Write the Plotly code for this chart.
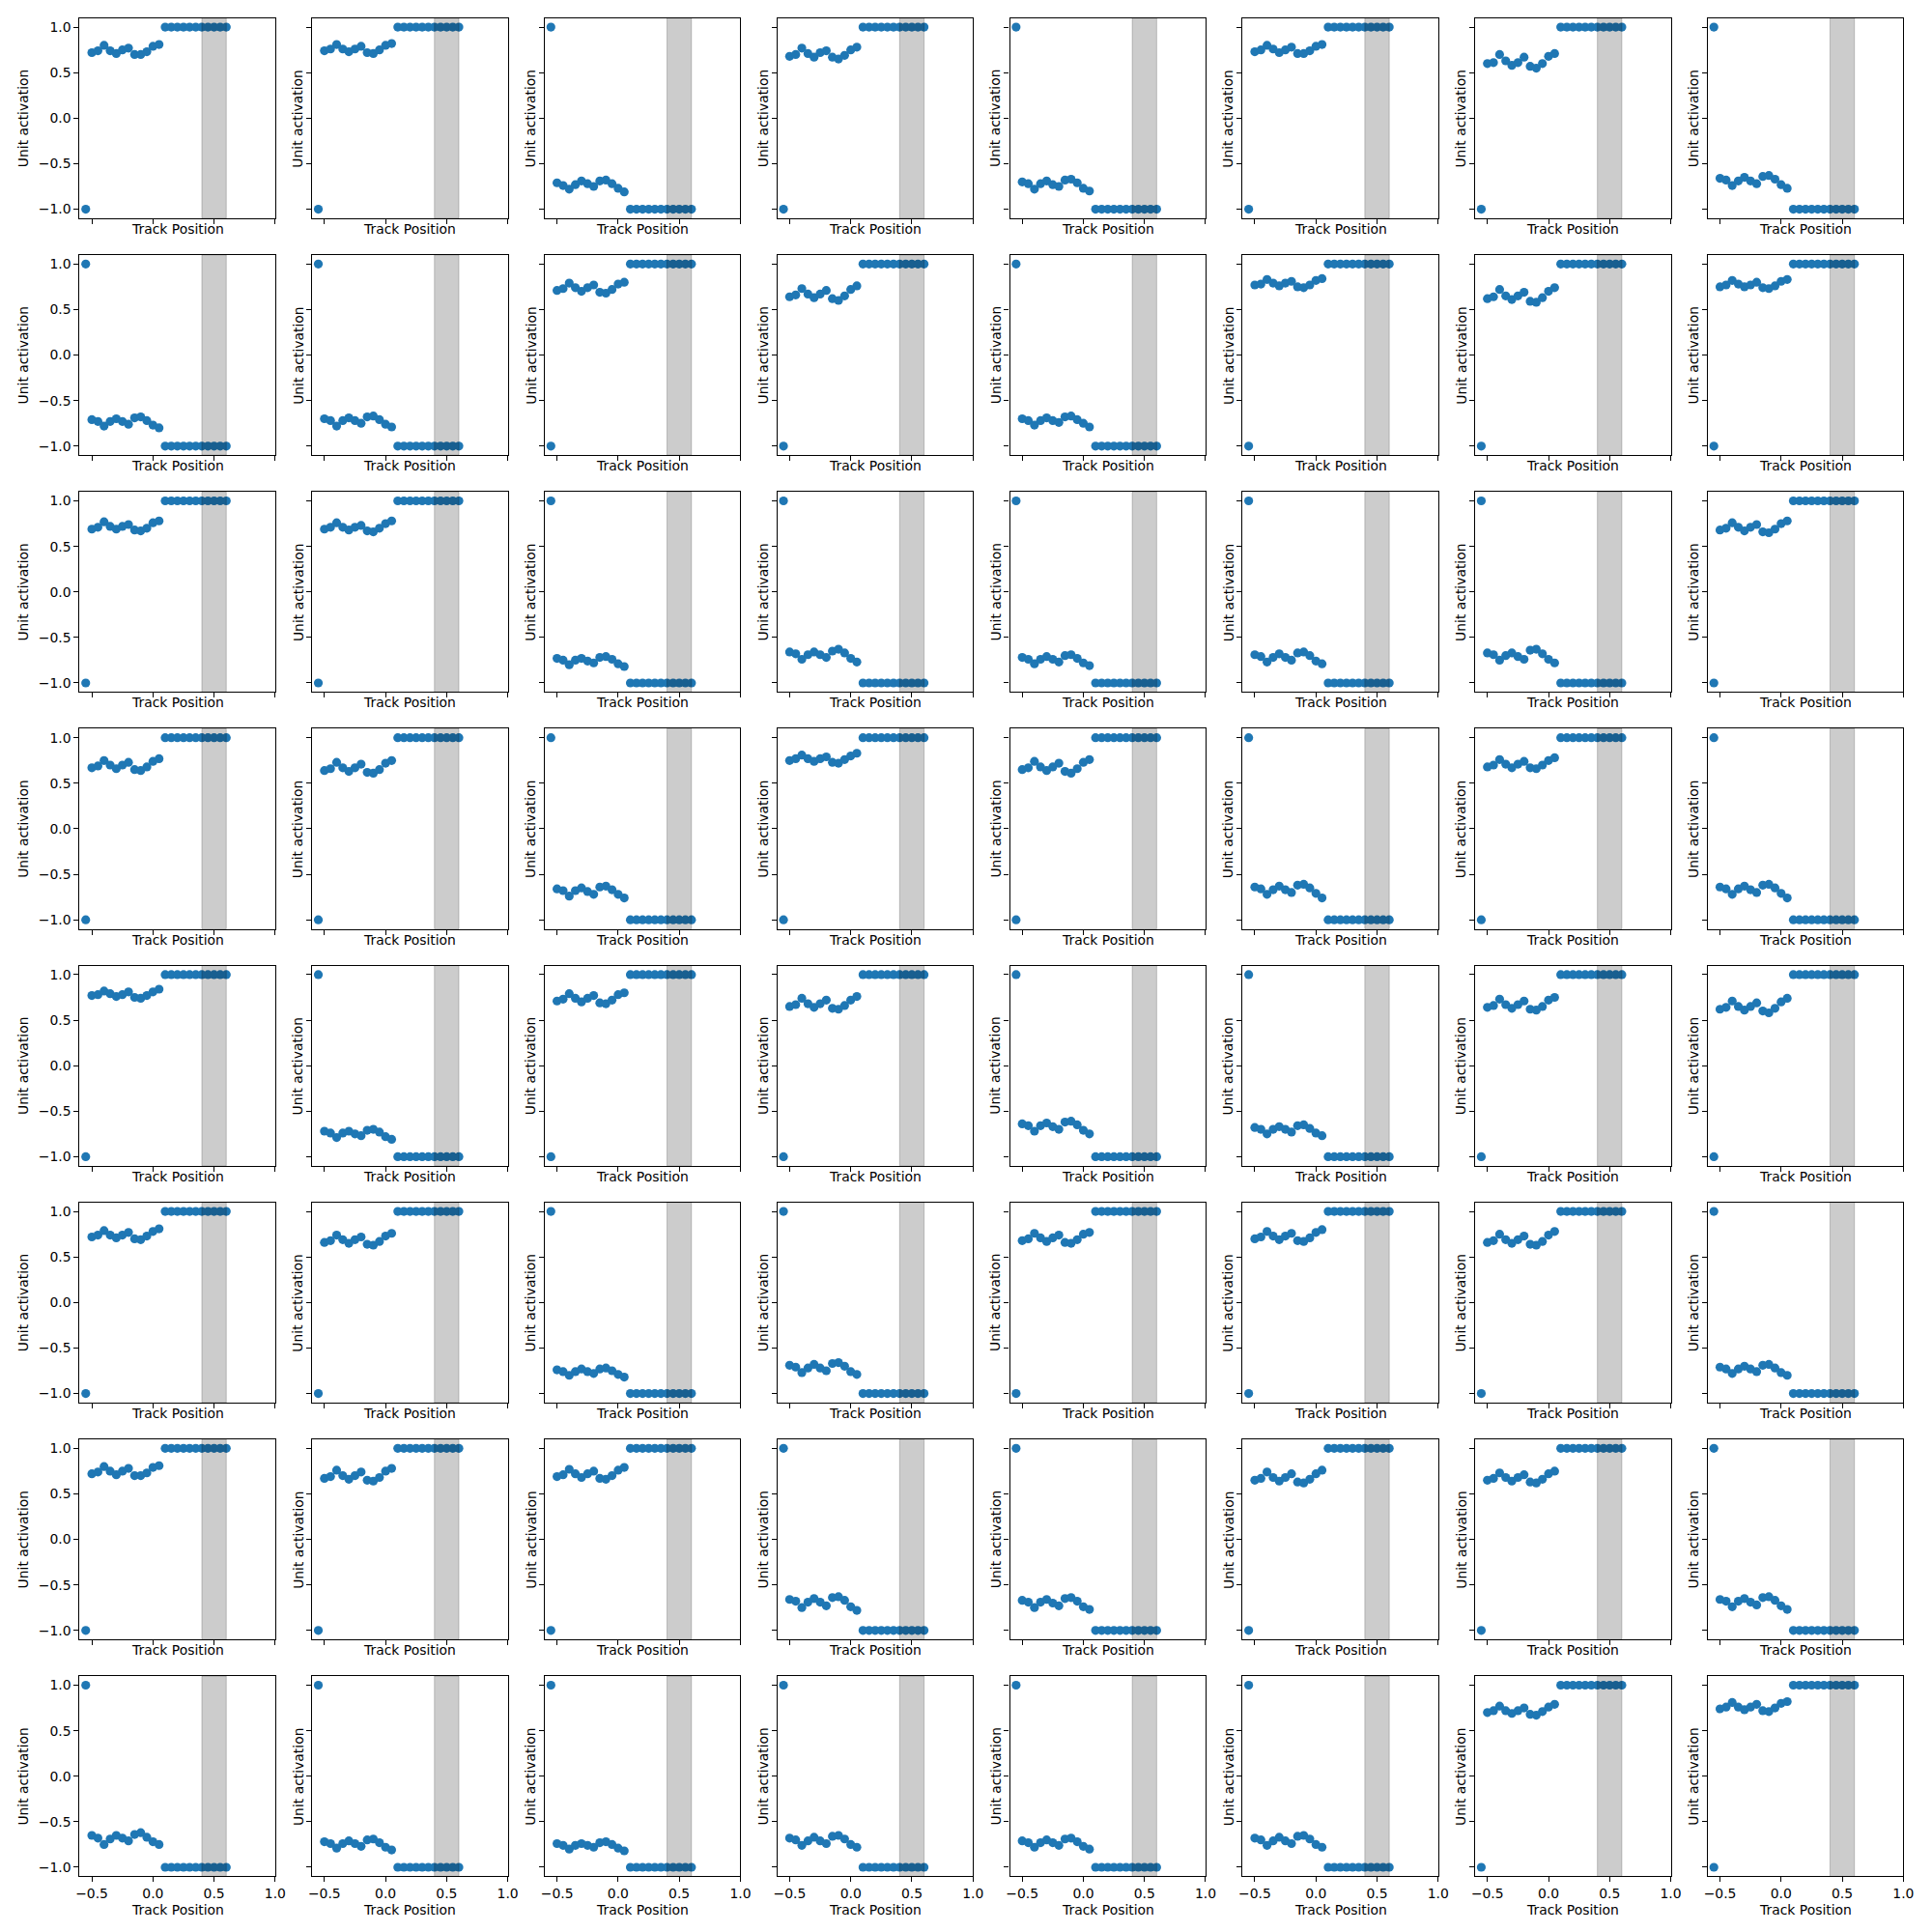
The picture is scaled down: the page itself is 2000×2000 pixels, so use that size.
import plotly.graph_objects as go

# Track positions of the 24 samples (first sample is the start point)
track_x = [-0.55, -0.50, -0.45, -0.40, -0.35, -0.30, -0.25, -0.20, -0.15, -0.10,
           -0.05, 0.00, 0.05, 0.10, 0.15, 0.20, 0.25, 0.30, 0.35, 0.40, 0.45,
           0.50, 0.55, 0.60]

# Plateau sign of each unit (value reached from x=0.1 on); start point has the opposite value
row_signs = [
    [1, 1, -1, 1, -1, 1, 1, -1],
    [-1, -1, 1, 1, -1, 1, 1, 1],
    [1, 1, -1, -1, -1, -1, -1, 1],
    [1, 1, -1, 1, 1, -1, 1, -1],
    [1, -1, 1, 1, -1, -1, 1, 1],
    [1, 1, -1, -1, 1, 1, 1, -1],
    [1, 1, 1, -1, -1, 1, 1, -1],
    [-1, -1, -1, -1, -1, -1, 1, 1],
]

# Activations for x = -0.50 ... 0.05 (12 points) for each unit, row by row
row1 = [
    [0.72, 0.74, 0.80, 0.74, 0.71, 0.75, 0.77, 0.70, 0.70, 0.73, 0.79, 0.81],
    [0.74, 0.76, 0.81, 0.76, 0.73, 0.76, 0.79, 0.72, 0.71, 0.75, 0.80, 0.82],
    [-0.71, -0.74, -0.78, -0.73, -0.69, -0.72, -0.75, -0.69, -0.68, -0.72, -0.77, -0.81],
    [0.68, 0.70, 0.77, 0.71, 0.67, 0.72, 0.74, 0.67, 0.65, 0.69, 0.75, 0.78],
    [-0.70, -0.72, -0.78, -0.72, -0.69, -0.73, -0.75, -0.68, -0.67, -0.71, -0.77, -0.80],
    [0.73, 0.75, 0.80, 0.76, 0.72, 0.75, 0.78, 0.71, 0.71, 0.74, 0.79, 0.81],
    [0.60, 0.61, 0.70, 0.63, 0.58, 0.61, 0.67, 0.57, 0.55, 0.60, 0.68, 0.71],
    [-0.66, -0.68, -0.74, -0.69, -0.65, -0.69, -0.72, -0.64, -0.63, -0.67, -0.73, -0.77],
]
row2 = [
    [-0.71, -0.73, -0.78, -0.73, -0.70, -0.73, -0.76, -0.69, -0.68, -0.72, -0.77, -0.80],
    [-0.70, -0.72, -0.78, -0.72, -0.69, -0.72, -0.75, -0.68, -0.67, -0.71, -0.76, -0.79],
    [0.71, 0.73, 0.79, 0.74, 0.70, 0.74, 0.77, 0.69, 0.68, 0.72, 0.78, 0.80],
    [0.64, 0.66, 0.73, 0.67, 0.63, 0.67, 0.71, 0.62, 0.60, 0.65, 0.72, 0.76],
    [-0.70, -0.72, -0.77, -0.72, -0.69, -0.72, -0.74, -0.68, -0.67, -0.71, -0.75, -0.79],
    [0.77, 0.78, 0.83, 0.79, 0.76, 0.79, 0.81, 0.75, 0.74, 0.77, 0.82, 0.84],
    [0.62, 0.64, 0.72, 0.65, 0.61, 0.65, 0.69, 0.59, 0.58, 0.63, 0.70, 0.74],
    [0.75, 0.77, 0.82, 0.78, 0.75, 0.77, 0.80, 0.74, 0.73, 0.76, 0.81, 0.83],
]
row3 = [
    [0.69, 0.71, 0.77, 0.72, 0.69, 0.72, 0.74, 0.68, 0.67, 0.70, 0.76, 0.78],
    [0.69, 0.71, 0.76, 0.71, 0.68, 0.71, 0.73, 0.67, 0.66, 0.70, 0.75, 0.78],
    [-0.73, -0.75, -0.80, -0.75, -0.73, -0.76, -0.78, -0.72, -0.71, -0.74, -0.79, -0.82],
    [-0.66, -0.68, -0.74, -0.69, -0.66, -0.69, -0.72, -0.65, -0.63, -0.67, -0.73, -0.77],
    [-0.72, -0.74, -0.79, -0.74, -0.71, -0.74, -0.77, -0.70, -0.69, -0.73, -0.78, -0.81],
    [-0.69, -0.71, -0.77, -0.72, -0.68, -0.72, -0.75, -0.67, -0.66, -0.70, -0.76, -0.79],
    [-0.67, -0.69, -0.75, -0.70, -0.67, -0.71, -0.74, -0.64, -0.63, -0.68, -0.74, -0.78],
    [0.68, 0.70, 0.76, 0.71, 0.67, 0.71, 0.74, 0.66, 0.65, 0.69, 0.75, 0.78],
]
row4 = [
    [0.67, 0.69, 0.75, 0.70, 0.66, 0.70, 0.73, 0.65, 0.64, 0.68, 0.74, 0.77],
    [0.64, 0.66, 0.73, 0.67, 0.63, 0.67, 0.71, 0.62, 0.61, 0.65, 0.72, 0.75],
    [-0.66, -0.68, -0.74, -0.68, -0.65, -0.69, -0.72, -0.64, -0.63, -0.67, -0.72, -0.76],
    [0.75, 0.77, 0.81, 0.77, 0.74, 0.77, 0.79, 0.73, 0.72, 0.76, 0.80, 0.83],
    [0.65, 0.67, 0.74, 0.68, 0.64, 0.68, 0.72, 0.63, 0.61, 0.66, 0.73, 0.76],
    [-0.64, -0.66, -0.72, -0.67, -0.63, -0.67, -0.70, -0.62, -0.61, -0.65, -0.71, -0.76],
    [0.68, 0.70, 0.76, 0.71, 0.67, 0.71, 0.74, 0.67, 0.66, 0.70, 0.75, 0.78],
    [-0.64, -0.66, -0.72, -0.66, -0.63, -0.67, -0.70, -0.62, -0.61, -0.65, -0.71, -0.76],
]
row5 = [
    [0.77, 0.78, 0.82, 0.79, 0.76, 0.78, 0.81, 0.75, 0.74, 0.77, 0.81, 0.84],
    [-0.72, -0.74, -0.79, -0.74, -0.72, -0.75, -0.77, -0.71, -0.70, -0.73, -0.78, -0.81],
    [0.71, 0.73, 0.79, 0.74, 0.70, 0.74, 0.77, 0.69, 0.68, 0.72, 0.78, 0.80],
    [0.65, 0.67, 0.74, 0.68, 0.64, 0.68, 0.72, 0.63, 0.62, 0.66, 0.72, 0.76],
    [-0.64, -0.66, -0.72, -0.66, -0.63, -0.67, -0.70, -0.62, -0.61, -0.65, -0.71, -0.75],
    [-0.68, -0.70, -0.75, -0.70, -0.67, -0.70, -0.73, -0.66, -0.65, -0.69, -0.74, -0.77],
    [0.64, 0.66, 0.73, 0.67, 0.63, 0.67, 0.71, 0.62, 0.61, 0.65, 0.72, 0.75],
    [0.62, 0.64, 0.71, 0.65, 0.61, 0.65, 0.69, 0.60, 0.58, 0.63, 0.70, 0.74],
]
row6 = [
    [0.72, 0.74, 0.79, 0.74, 0.71, 0.74, 0.77, 0.70, 0.69, 0.73, 0.78, 0.81],
    [0.66, 0.68, 0.74, 0.69, 0.65, 0.69, 0.72, 0.64, 0.63, 0.67, 0.73, 0.76],
    [-0.74, -0.76, -0.80, -0.76, -0.73, -0.76, -0.78, -0.73, -0.72, -0.75, -0.79, -0.82],
    [-0.69, -0.71, -0.77, -0.72, -0.68, -0.72, -0.75, -0.67, -0.66, -0.70, -0.76, -0.79],
    [0.68, 0.70, 0.76, 0.71, 0.67, 0.71, 0.74, 0.66, 0.65, 0.69, 0.75, 0.77],
    [0.70, 0.72, 0.78, 0.73, 0.69, 0.73, 0.76, 0.68, 0.67, 0.71, 0.77, 0.80],
    [0.66, 0.68, 0.75, 0.69, 0.65, 0.69, 0.73, 0.64, 0.63, 0.67, 0.74, 0.78],
    [-0.71, -0.73, -0.78, -0.73, -0.70, -0.73, -0.76, -0.69, -0.68, -0.72, -0.77, -0.80],
]
row7 = [
    [0.72, 0.74, 0.80, 0.75, 0.71, 0.75, 0.78, 0.70, 0.70, 0.73, 0.79, 0.81],
    [0.67, 0.69, 0.76, 0.70, 0.66, 0.70, 0.74, 0.65, 0.64, 0.68, 0.75, 0.78],
    [0.69, 0.71, 0.77, 0.72, 0.68, 0.72, 0.75, 0.67, 0.66, 0.70, 0.76, 0.79],
    [-0.66, -0.68, -0.75, -0.69, -0.65, -0.69, -0.73, -0.64, -0.63, -0.67, -0.74, -0.78],
    [-0.67, -0.69, -0.75, -0.69, -0.66, -0.70, -0.73, -0.65, -0.64, -0.68, -0.74, -0.77],
    [0.65, 0.67, 0.74, 0.68, 0.64, 0.68, 0.72, 0.63, 0.62, 0.66, 0.72, 0.76],
    [0.65, 0.67, 0.73, 0.68, 0.64, 0.68, 0.71, 0.63, 0.62, 0.66, 0.72, 0.75],
    [-0.66, -0.68, -0.74, -0.68, -0.65, -0.69, -0.72, -0.64, -0.63, -0.67, -0.73, -0.77],
]
row8 = [
    [-0.65, -0.68, -0.75, -0.69, -0.65, -0.68, -0.71, -0.64, -0.62, -0.67, -0.72, -0.75],
    [-0.72, -0.74, -0.79, -0.74, -0.71, -0.74, -0.77, -0.70, -0.69, -0.73, -0.78, -0.81],
    [-0.74, -0.76, -0.80, -0.76, -0.74, -0.76, -0.78, -0.73, -0.72, -0.75, -0.79, -0.82],
    [-0.68, -0.70, -0.76, -0.71, -0.67, -0.71, -0.74, -0.66, -0.65, -0.69, -0.75, -0.78],
    [-0.71, -0.73, -0.78, -0.73, -0.70, -0.73, -0.76, -0.69, -0.68, -0.72, -0.77, -0.80],
    [-0.68, -0.70, -0.76, -0.71, -0.67, -0.71, -0.74, -0.66, -0.65, -0.69, -0.75, -0.78],
    [0.70, 0.72, 0.77, 0.72, 0.69, 0.72, 0.75, 0.68, 0.67, 0.71, 0.76, 0.79],
    [0.74, 0.76, 0.81, 0.76, 0.73, 0.76, 0.79, 0.72, 0.71, 0.75, 0.80, 0.82],
]
rows = [row1, row2, row3, row4, row5, row6, row7, row8]

x_tickvals = [-0.5, 0.0, 0.5, 1.0]
x_ticktext = ["\u22120.5", "0.0", "0.5", "1.0"]
y_tickvals = [-1.0, -0.5, 0.0, 0.5, 1.0]
y_ticktext = ["\u22121.0", "\u22120.5", "0.0", "0.5", "1.0"]
goal_zone = [0.4, 0.6]

W = H = 2000
FONT = dict(family="DejaVu Sans", size=13.9, color="black")
col_left0, col_step, ax_w = 79.0, 242.6, 204.0
row_top0, row_step, ax_h = 18.7, 245.2, 207.3

fig = go.Figure()
layout = dict(width=W, height=H, margin=dict(l=0, r=0, t=0, b=0),
              paper_bgcolor="white", plot_bgcolor="white", showlegend=False)
shapes, annotations = [], []

for r in range(8):
    for c in range(8):
        n = r * 8 + c + 1
        sfx = "" if n == 1 else str(n)
        s = row_signs[r][c]
        ys = [-s] + rows[r][c] + [s] * 11
        left = col_left0 + c * col_step
        top = row_top0 + r * row_step
        bottom = top + ax_h
        axis_common = dict(ticks="outside", ticklen=5, tickwidth=1.1, tickcolor="black",
                           showline=True, linecolor="black", linewidth=1.1, mirror=True,
                           showgrid=False, zeroline=False, tickfont=FONT, fixedrange=True)
        layout["xaxis" + sfx] = dict(domain=[left / W, (left + ax_w) / W], range=[-0.6, 1.0],
                                     tickvals=x_tickvals, ticktext=x_ticktext,
                                     showticklabels=(r == 7), anchor="y" + sfx, **axis_common)
        layout["yaxis" + sfx] = dict(domain=[1 - bottom / H, 1 - top / H], range=[-1.1, 1.1],
                                     tickvals=y_tickvals, ticktext=y_ticktext,
                                     showticklabels=(c == 0), anchor="x" + sfx, **axis_common)
        fig.add_trace(go.Scatter(x=track_x, y=ys, mode="markers",
                                 marker=dict(size=9.2, color="#1f77b4", line=dict(width=0)),
                                 xaxis="x" + sfx, yaxis="y" + sfx, hoverinfo="skip"))
        shapes.append(dict(type="rect", xref="x" + sfx, yref="y" + sfx + " domain",
                           x0=goal_zone[0], x1=goal_zone[1], y0=0, y1=1,
                           fillcolor="rgba(0,0,0,0.2)",
                           line=dict(color="rgba(0,0,0,0.2)", width=1), layer="above"))
        # x-axis label
        xl_y = bottom + (35 if r == 7 else 11)
        annotations.append(dict(text="Track Position", xref="paper", yref="paper",
                                x=(left + ax_w / 2) / W, y=1 - xl_y / H,
                                xanchor="center", yanchor="middle", showarrow=False, font=FONT))
        # y-axis label
        yl_x = 20 if c == 0 else left - 15
        annotations.append(dict(text="Unit activation", xref="paper", yref="paper",
                                x=yl_x / W, y=1 - (top + ax_h / 2) / H, textangle=-90,
                                xanchor="center", yanchor="middle", showarrow=False, font=FONT))

layout["shapes"] = shapes
layout["annotations"] = annotations
fig.update_layout(**layout)
fig.write_html("out.html")
